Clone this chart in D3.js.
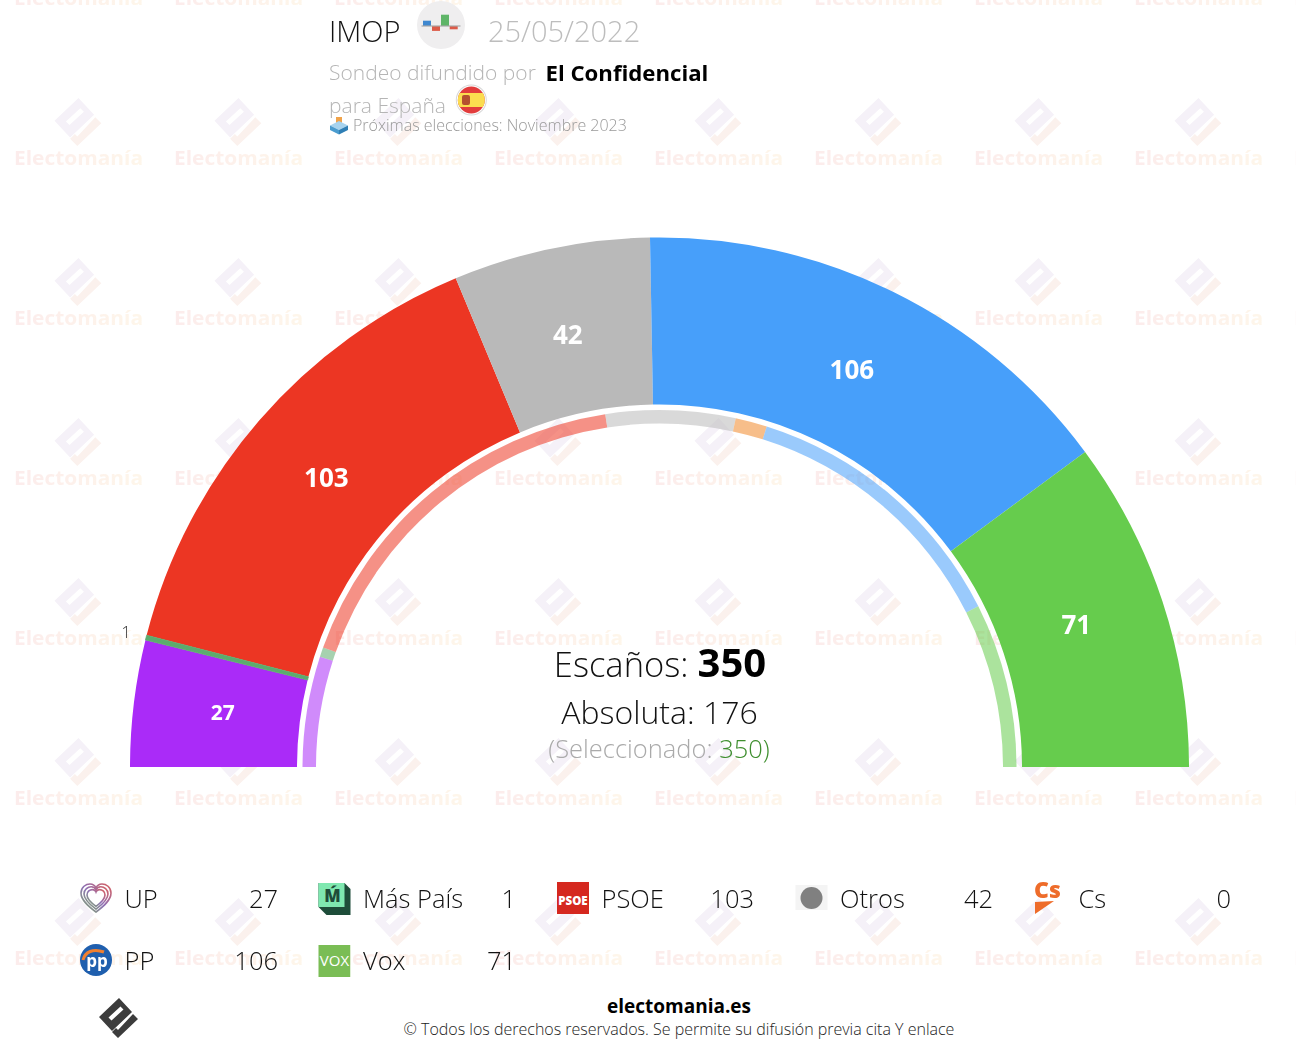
<!DOCTYPE html>
<html lang="es">
<head>
    <meta charset="UTF-8">
    <title>IMOP 25/05/2022</title>
    <script src="https://d3js.org/d3.v7.min.js"></script>
    <style>
        html, body { margin: 0; padding: 0; background: #fff; overflow: hidden; }
        svg { display: block; }
        text { font-family: "Open Sans", sans-serif; }
    </style>
</head>
<body>
    <svg width="1296" height="1052"></svg>
    <script>
        // seats in this poll, and the previous election for the thin inner ring
        var parties = ["UP", "Más País", "PSOE", "Otros", "Cs", "PP", "Vox"];
        var seats = [27, 1, 103, 42, 0, 106, 71];
        var previousSeats = [35, 3, 120, 41, 10, 89, 52];
        var colors = ["#aa2bf8", "#5cab6e", "#ec3623", "#b9b9b9", "#f0882a", "#479ffa", "#66cc4d"];
        var labelSizes = [21, 17, 26, 26, 0, 26, 26];

        var svg = d3.select("svg");
        var cx = 659.5, cy = 767;

        var defs = svg.append("defs");
        var grad = defs.append("linearGradient").attr("id", "wm");
        grad.append("stop").attr("offset", "0").attr("stop-color", "#fcecec");
        grad.append("stop").attr("offset", "1").attr("stop-color", "#fef6ea");
        defs.append("filter").attr("id", "soft").append("feGaussianBlur").attr("stdDeviation", 0.6);

        var logoDiamond = "M0,-20L13,-6L-7,13L-20,-1ZM1.5,-11.5L-10.5,-0.5L-7.5,2.5L4.5,-8.5Z";
        var logoCheck = "M14,-4L19,1L-1,20L-7,14L-3,10L-1,12Z";

        // watermark grid
        var wmCols = d3.range(0, 9).map(function(i) { return 78.5 + i * 160; });
        var wmRows = d3.range(0, 7).map(function(i) { return -2 + i * 160; });
        var wm = svg.append("g").attr("filter", "url(#soft)");
        wmRows.forEach(function(y) {
            wmCols.forEach(function(x) {
                var g = wm.append("g").attr("transform", "translate(" + x + "," + y + ")");
                g.append("path").attr("d", logoDiamond).attr("transform", "translate(0,-36) scale(1.2)")
                    .attr("fill", "#f5f1f8").attr("fill-rule", "evenodd");
                g.append("path").attr("d", logoCheck).attr("transform", "translate(0,-36) scale(1.2)")
                    .attr("fill", "#fbf1ed");
                g.append("text").attr("y", 7).attr("text-anchor", "middle")
                    .attr("font-size", 20).attr("font-weight", 700)
                    .attr("textLength", 129).attr("lengthAdjust", "spacingAndGlyphs")
                    .attr("fill", "url(#wm)").text("Electomanía");
            });
        });

        // hemicycle
        var pie = d3.pie().sort(null).startAngle(-Math.PI / 2).endAngle(Math.PI / 2);
        var outerArc = d3.arc().innerRadius(362.5).outerRadius(529.5);
        var ringArc = d3.arc().innerRadius(343.5).outerRadius(357);
        var outsideArc = d3.arc().innerRadius(550).outerRadius(550);

        var chart = svg.append("g").attr("transform", "translate(" + cx + "," + cy + ")");
        var slices = pie(seats);

        chart.selectAll("path.seat").data(slices).enter().append("path")
            .attr("class", "seat")
            .attr("d", outerArc)
            .attr("fill", function(d, i) { return colors[i]; })
            .attr("stroke", function(d, i) { return d.value === 1 ? colors[i] : "none"; })
            .attr("stroke-width", 0.8)
            .filter(function(d) { return d.value === 1; }).raise();

        chart.selectAll("path.ring").data(pie(previousSeats)).enter().append("path")
            .attr("class", "ring")
            .attr("d", ringArc)
            .attr("fill", function(d, i) { return colors[i]; })
            .attr("fill-opacity", 0.55);

        // value labels sit on a 440px radius, drifting a touch counter-clockwise to the right
        function labelPos(d) {
            var a = (d.startAngle + d.endAngle) / 2;
            a -= 0.008 * (a + Math.PI / 2) / Math.PI;
            return [440 * Math.sin(a), -440 * Math.cos(a) - 2];
        }

        chart.selectAll("text.val").data(slices.filter(function(d) { return d.value > 1; })).enter()
            .append("text")
            .attr("class", "val")
            .attr("transform", function(d) { return "translate(" + labelPos(d) + ")"; })
            .attr("dy", "0.36em")
            .attr("text-anchor", "middle")
            .attr("font-weight", 700)
            .attr("fill", "#fff")
            .attr("font-size", function(d) { return labelSizes[d.index]; })
            .text(function(d) { return d.value; });

        // the one-seat slice is labelled outside
        chart.selectAll("text.out").data(slices.filter(function(d) { return d.value === 1; })).enter()
            .append("text")
            .attr("class", "out")
            .attr("transform", function(d) { return "translate(" + outsideArc.centroid(d) + ")"; })
            .attr("dy", "0.3em")
            .attr("text-anchor", "middle")
            .attr("font-size", 17)
            .attr("font-weight", 300)
            .attr("fill", "#333")
            .text(function(d) { return d.value; });

        function label(x, y, size, weight, fill, str, anchor) {
            return svg.append("text").attr("x", x).attr("y", y)
                .attr("font-size", size).attr("font-weight", weight)
                .attr("fill", fill).attr("text-anchor", anchor || "start").text(str);
        }

        // centre text
        var esc = svg.append("text").attr("x", 660).attr("y", 677).attr("text-anchor", "middle");
        esc.append("tspan").attr("font-size", 34.5).attr("font-weight", 300).attr("fill", "#111").text("Escaños: ");
        esc.append("tspan").attr("font-size", 40).attr("font-weight", 700).attr("fill", "#000").text(d3.sum(seats));
        label(659.5, 724, 32, 300, "#111", "Absoluta: 176", "middle");
        var sel = svg.append("text").attr("x", 659).attr("y", 758).attr("text-anchor", "middle").attr("font-size", 25.5).attr("font-weight", 300);
        sel.append("tspan").attr("fill", "#aaa").text("(Seleccionado: ");
        sel.append("tspan").attr("fill", "#3f8f2f").text("350)");

        // header
        label(329, 42, 29, 300, "#111", "IMOP");
        label(488, 42, 29, 300, "#bdbdbd", "25/05/2022");
        label(329, 80, 21, 300, "#b5b5b5", "Sondeo difundido por");
        label(545.5, 81, 22.2, 700, "#000", "El Confidencial");
        label(329, 113, 21, 300, "#b5b5b5", "para España");
        label(353, 131, 16, 300, "#999", "Próximas elecciones: Noviembre 2023");

        // small poll icon next to the pollster name
        var hd = svg.append("g");
        hd.append("circle").attr("cx", 441).attr("cy", 25).attr("r", 24).attr("fill", "#efeeef");
        hd.append("rect").attr("x", 423).attr("y", 20.7).attr("width", 8).attr("height", 5).attr("fill", "#3f88d0");
        hd.append("rect").attr("x", 432).attr("y", 26.3).attr("width", 8).attr("height", 4.6).attr("fill", "#dc5a48");
        hd.append("rect").attr("x", 441).attr("y", 14.7).attr("width", 8).attr("height", 11).attr("fill", "#5fb568");
        hd.append("rect").attr("x", 449.7).attr("y", 26.3).attr("width", 8).attr("height", 3).attr("fill", "#dc5a48");
        hd.append("rect").attr("x", 421.5).attr("y", 25.6).attr("width", 39).attr("height", 0.8).attr("fill", "#888");

        // Spanish flag
        defs.append("clipPath").attr("id", "flag")
            .append("circle").attr("cx", 471.3).attr("cy", 100).attr("r", 13.5);
        hd.append("circle").attr("cx", 471.3).attr("cy", 100).attr("r", 15.5).attr("fill", "#d8d8d8");
        hd.append("circle").attr("cx", 471.3).attr("cy", 100).attr("r", 14.5).attr("fill", "#fff");
        var flag = hd.append("g").attr("clip-path", "url(#flag)");
        flag.append("rect").attr("x", 457).attr("y", 86).attr("width", 29).attr("height", 28).attr("fill", "#e23c3c");
        flag.append("rect").attr("x", 457).attr("y", 93).attr("width", 29).attr("height", 14).attr("fill", "#fbdc4f");
        flag.append("rect").attr("x", 462).attr("y", 95).attr("width", 8).attr("height", 10).attr("rx", 2).attr("fill", "#b5502f");

        // ballot box
        hd.append("rect").attr("x", 336).attr("y", 117).attr("width", 6).attr("height", 7).attr("fill", "#f0a34a");
        hd.append("path").attr("d", "M339,121L348,125.5L339,130L330,125.5Z").attr("fill", "#a7d3ee");
        hd.append("path").attr("d", "M330,125.5L339,130V134.5L330,130Z").attr("fill", "#4a9ccf");
        hd.append("path").attr("d", "M348,125.5L339,130V134.5L348,130Z").attr("fill", "#2f7fb5");

        // party logos, each in a 32px box
        var heart = "M16,29C8,23 1,17 1,10C1,4 6,1 10,1C12.5,1 15,2.5 16,5C17,2.5 19.500,1 22,1C26,1 31,4 31,10C31,17 24,23 16,29Z";
        var drawIcon = {
            "UP": function(g) {
                defs.append("linearGradient").attr("id", "upg").attr("x1", 0).attr("y1", 1).attr("x2", 1).attr("y2", 0)
                    .selectAll("stop").data(["#7fae6a", "#8d6fb5", "#d9605f"]).enter().append("stop")
                    .attr("offset", function(d, i) { return i / 2; }).attr("stop-color", function(d) { return d; });
                [1, 0.8, 0.6].forEach(function(k) {
                    g.append("path").attr("d", heart)
                        .attr("transform", "translate(" + (16 * (1 - k)) + "," + (15 * (1 - k)) + ") scale(" + k + ")")
                        .attr("fill", "none").attr("stroke", "url(#upg)").attr("stroke-width", 1.6 / k);
                });
            },
            "Más País": function(g) {
                g.append("path").attr("d", "M0,0H26L32,6V32H8L0,24Z").attr("fill", "#1e4d3a");
                g.append("rect").attr("width", 26).attr("height", 24).attr("fill", "#7fe8b0");
                g.append("text").attr("x", 14).attr("y", 19).attr("text-anchor", "middle")
                    .attr("font-size", 17).attr("font-weight", 800).attr("fill", "#1e4d3a").text("Ḿ");
            },
            "PSOE": function(g) {
                g.append("rect").attr("y", -1).attr("width", 32).attr("height", 32).attr("fill", "#d5281f");
                g.append("text").attr("x", 16).attr("y", 22).attr("text-anchor", "middle")
                    .attr("font-size", 11.5).attr("font-weight", 800).attr("fill", "#fff").text("PSOE");
            },
            "Otros": function(g) {
                g.append("rect").attr("y", 2).attr("width", 32).attr("height", 25).attr("fill", "#f4f4f4");
                g.append("circle").attr("cx", 16).attr("cy", 15).attr("r", 11).attr("fill", "#808080");
            },
            "Cs": function(g) {
                g.append("text").attr("x", 0).attr("y", 15).attr("font-size", 23).attr("font-weight", 800)
                    .attr("fill", "#ee6c2a").text("Cs");
                g.append("path").attr("d", "M1,19L20,18L1,31Z").attr("fill", "#ee6c2a");
            },
            "PP": function(g) {
                g.append("circle").attr("cx", 16).attr("cy", 15).attr("r", 16).attr("fill", "#1f5fae");
                g.append("path").attr("d", "M3,15C5,7 13,3 24,7").attr("fill", "none").attr("stroke", "#f08030").attr("stroke-width", 3);
                g.append("text").attr("x", 17).attr("y", 22).attr("text-anchor", "middle")
                    .attr("font-size", 17).attr("font-weight", 700).attr("fill", "#fff").text("pp");
            },
            "Vox": function(g) {
                g.append("rect").attr("width", 32).attr("height", 32).attr("fill", "#7abd55");
                g.append("text").attr("x", 16).attr("y", 21).attr("text-anchor", "middle")
                    .attr("font-size", 15).attr("font-weight", 400).attr("fill", "#fff").text("VOX");
            }
        };

        // legend
        var colX = d3.scaleLinear().domain([0, 1]).range([80, 318.5]);
        var rowY = d3.scaleLinear().domain([0, 1]).range([899, 961]);
        var valueEnd = [278, 516, 754, 993, 1231];
        var perRow = 5;

        parties.forEach(function(name, i) {
            var c = i % perRow, r = Math.floor(i / perRow);
            label(colX(c) + 44.5, rowY(r) + 9, 25.5, 300, "#111", name);
            label(valueEnd[c], rowY(r) + 9, 25.5, 300, "#111", seats[i], "end");
            var icon = svg.append("g").attr("transform", "translate(" + colX(c) + "," + (rowY(r) - 16) + ")");
            drawIcon[name](icon);
        });

        // footer
        label(679, 1013, 19, 700, "#000", "electomania.es", "middle");
        label(679, 1035, 16, 300, "#222", "© Todos los derechos reservados. Se permite su difusión previa cita Y enlace", "middle");
        var foot = svg.append("g").attr("transform", "translate(119,1018)");
        foot.append("path").attr("d", logoDiamond).attr("fill", "#3c3c3c").attr("fill-rule", "evenodd");
        foot.append("path").attr("d", logoCheck).attr("fill", "#3c3c3c");
    </script>
</body>
</html>
